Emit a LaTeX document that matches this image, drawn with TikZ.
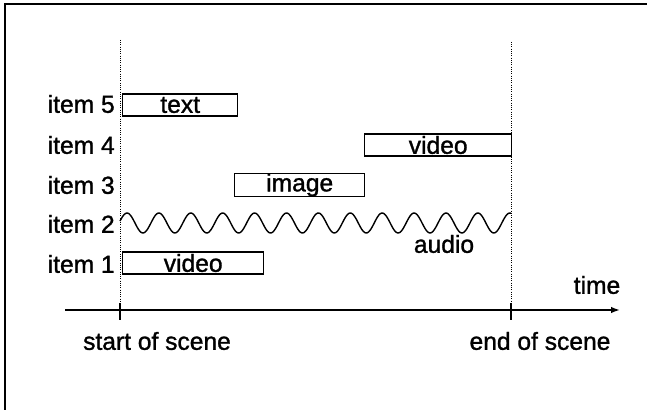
\documentclass[tikz,border=0pt]{standalone}
\usepackage{fontspec}
\setmainfont[FakeBold=1.2]{Liberation Sans}
\usetikzlibrary{arrows.meta,positioning}

\begin{document}
\begin{tikzpicture}[
  font=\fontsize{17.5}{20}\selectfont,
  slot/.style={draw,line width=1pt,minimum height=0.55cm,inner sep=0pt,anchor=west},
  lbl/.style={anchor=east,inner sep=0pt},
  guide/.style={densely dotted,line width=0.6pt},
  arr/.style={-{Latex[length=2.2mm,width=1.6mm]},line width=1.3pt}
]
  \useasboundingbox (0,0) rectangle (16.175,10.25);
  % frame
  \draw[line width=1.5pt] (16.175,10.15) -- (0.125,10.15) -- (0.125,0);
  % scene limits
  \coordinate (s0) at (3.0,9.25);
  \coordinate (e0) at (12.775,9.2);
  \coordinate (sa) at (3.0,2.5);
  \coordinate (ea) at (12.775,2.5);
  \draw[guide] (s0) -- (sa);
  \draw[guide] (e0) -- (ea);
  % time axis
  \coordinate (axL) at (1.625,2.5);
  \coordinate (axR) at (15.5,2.5);
  \draw[arr] (axL) -- (axR);
  \draw[line width=1.3pt] ([yshift=5pt]sa) -- ([yshift=-7pt]sa);
  \draw[line width=1.3pt] ([yshift=5pt]ea) -- ([yshift=-7pt]ea);
  \node (time) at (14.925,3.125) {time};
  \node (start) at (3.925,1.725) {start of scene};
  \node (end) at (13.5,1.725) {end of scene};
  % items
  \node[lbl] (i5) at (2.875,7.65) {item 5};
  \node[lbl] (i4) at (2.875,6.625) {item 4};
  \node[lbl] (i3) at (2.875,5.625) {item 3};
  \node[lbl] (i2) at (2.875,4.65) {item 2};
  \node[lbl] (i1) at (2.875,3.65) {item 1};
  \node[slot,minimum width=2.875cm] (text) at (3.05,7.625) {text};
  \node[slot,minimum width=3.675cm] (video4) at (9.1,6.625) {video};
  \node[slot,minimum width=3.25cm] (image) at (5.85,5.625) {image};
  \node[slot,minimum width=3.525cm] (video1) at (3.05,3.675) {video};
  % audio
  \draw[line width=1pt] plot[domain=3.0:12.775,samples=300,smooth]
    (\x,{4.675+0.25*cos(360*(\x-3.175)/0.7975)});
  \node (audio) at (11.1,4.15) {audio};
\end{tikzpicture}
\end{document}
